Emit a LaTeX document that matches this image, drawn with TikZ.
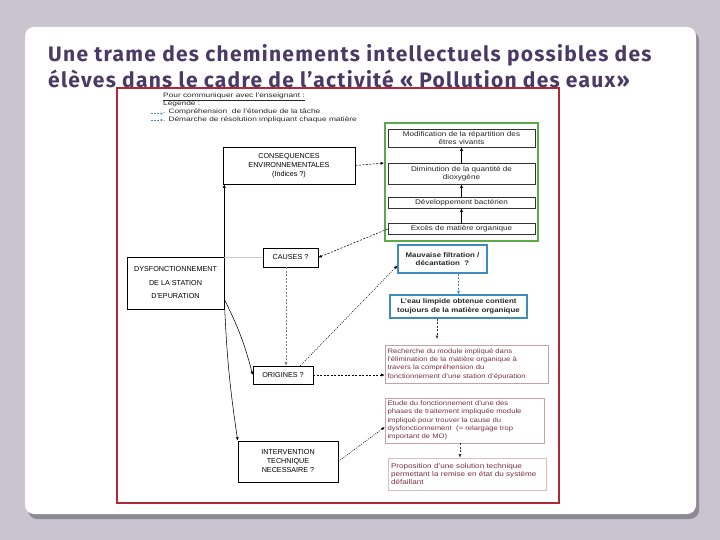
\documentclass[tikz,border=0pt]{standalone}
\usepackage{fontspec}
\setmainfont{Liberation Sans}
\newfontfamily\titlefont{Fira Sans}[LetterSpace=6]
\newfontfamily\wfa{Liberation Sans}[FakeStretch=1.3]
\newfontfamily\wfb{Liberation Sans}[FakeStretch=1.18]
\usetikzlibrary{arrows.meta}
\definecolor{bgc}{HTML}{C8C4D0}
\definecolor{titc}{HTML}{4A3A66}
\definecolor{redf}{HTML}{B02838}
\definecolor{grn}{HTML}{5AAA4A}
\definecolor{blu}{HTML}{3C8CC0}
\definecolor{redt}{HTML}{7A3040}
\definecolor{redb}{HTML}{C8A0A8}
\definecolor{shd}{HTML}{8C8A94}
\definecolor{legb}{HTML}{5A8AB8}
\begin{document}
\begin{tikzpicture}[x=1pt,y=-1pt,
  lbox/.style={draw=black, line width=0.6pt, fill=white, align=center, inner sep=1pt, font=\fontsize{7.2}{9}\selectfont},
  gbox/.style={draw=black!80, line width=0.6pt, fill=white, align=center, inner sep=1pt, text=black!85, font=\wfb\fontsize{6.9}{8.2}\selectfont, minimum width=147pt},
  bbox/.style={draw=blu, line width=1.1pt, fill=white, align=center, inner sep=1pt, text=black!85, font=\wfb\bfseries\fontsize{6.7}{8.5}\selectfont},
  rbox/.style={draw=redb, line width=0.6pt, fill=white, align=left, inner sep=1pt, text=redt, font=\wfb\fontsize{6.5}{8.3}\selectfont},
  arr/.style={-{Latex[length=3.5pt,width=3pt]}, line width=0.55pt},
  dsh/.style={arr, dash pattern=on 2pt off 1.5pt},
  dtt/.style={arr, dash pattern=on 1pt off 1.2pt},
  legt/.style={anchor=west, inner sep=0pt, font=\wfa\fontsize{6.4}{7}\selectfont, text=black!85}
]
\fill[bgc] (0,0) rectangle (720,540);
\useasboundingbox (0,0) rectangle (720,540);
\fill[shd, rounded corners=9pt] (28,31) rectangle (699,519);
\fill[white, rounded corners=9pt] (25,27) rectangle (696,514);
% title
\node[anchor=base west, inner sep=0pt, text=titc, font=\titlefont\bfseries\fontsize{21}{22}\selectfont] (t1) at (48,62) {Une trame des cheminements intellectuels possibles des};
\node[anchor=base west, inner sep=0pt, text=titc, font=\titlefont\bfseries\fontsize{21}{22}\selectfont] (t2) at (48,88) {élèves dans le cadre de l’activité « Pollution des eaux»};
% red frame
\draw[redf, line width=1.2pt] (117,88) rectangle (559,503);
% legend
\node[legt] (lg1) at (163,97) {\underline{Pour communiquer avec l’enseignant :}};
\node[legt] (lg2) at (163,104) {Légende :};
\node[legt] (lg3) at (163,112) {. Compréhension\ \ de l’étendue de la tâche};
\node[legt] (lg4) at (163,119.5) {. Démarche de résolution impliquant chaque matière};
\coordinate (la1) at (151,113.5);
\coordinate (lb1) at (163,113.5);
\coordinate (la2) at (151,120);
\coordinate (lb2) at (163,120);
\draw[-{Latex[length=2.5pt,width=2.5pt]}, legb, line width=0.6pt, dash pattern=on 2pt off 1.2pt] (la1) -- (lb1);
\draw[-{Latex[length=2.5pt,width=2.5pt]}, legb, line width=0.6pt, dash pattern=on 2pt off 1.2pt] (la2) -- (lb2);
% green group
\node[draw=grn, line width=1.8pt, minimum width=153pt, minimum height=118pt, inner sep=0pt] (green) at (461.5,182) {};
\node[gbox, minimum height=18pt] (mod) at (461.5,138) {Modification de la répartition des\\êtres vivants};
\node[gbox, minimum height=21pt] (dim) at (461.5,173.5) {Diminution de la quantité de\\dioxygène};
\node[gbox, minimum height=11pt] (dev) at (461.5,202.5) {Développement bactérien};
\node[gbox, minimum height=10.5pt] (exc) at (461.5,229) {Excès de matière organique};
\draw[arr] (exc.north) -- (dev.south);
\draw[arr] (dev.north) -- (dim.south);
\draw[arr] (dim.north) -- (mod.south);
% blue boxes
\node[bbox, minimum width=89pt, minimum height=28pt] (maus) at (442.5,259) {Mauvaise filtration /\\décantation\ \ ?};
\node[bbox, minimum width=137pt, minimum height=23pt] (eau) at (458.5,306.5) {L’eau limpide obtenue contient\\toujours de la matière organique};
\draw[dsh, blu] (eau.north |- maus.south) -- (eau.north);
\coordinate (eauend) at (437,339);
\draw[dsh, black!80] ([xshift=-21.5pt]eau.south) -- (eauend);
% red text boxes
\node[rbox, minimum width=163pt, minimum height=38pt, text width=158pt] (rech) at (466.5,364) {Recherche du module impliqué dans\\l’élimination de la matière organique à\\travers la compréhension du\\fonctionnement d’une station d’épuration};
\node[rbox, minimum width=159pt, minimum height=45pt, text width=154pt] (etude) at (464.5,420.5) {Etude du fonctionnement d’une des\\phases de traitement impliquée module\\impliqué pour trouver la cause du\\dysfonctionnement\ \ (= relargage trop\\important de MO)};
\node[rbox, minimum width=158pt, minimum height=32pt, text width=152pt, draw=redb!70, font=\wfb\fontsize{6.9}{8.3}\selectfont] (prop) at (467,474) {Proposition d’une solution technique\\permettant la remise en état du système\\défaillant};
\draw[dsh, black!80] ([xshift=-4.5pt]etude.south) -- ([xshift=-7pt]prop.north);
% left boxes
\node[lbox, minimum width=132pt, minimum height=37pt] (cons) at (289,165.5) {CONSEQUENCES\\ENVIRONNEMENTALES\\(Indices ?)};
\node[lbox, minimum width=55pt, minimum height=19pt] (causes) at (290.5,257.5) {CAUSES ?};
\node[lbox, minimum width=97pt, minimum height=52pt, font=\fontsize{7.2}{13.5}\selectfont] (dysf) at (175.5,283) {DYSFONCTIONNEMENT\\DE LA STATION\\D’EPURATION};
\node[lbox, minimum width=60pt, minimum height=18pt] (orig) at (283,375) {ORIGINES ?};
\node[lbox, minimum width=100pt, minimum height=41pt] (interv) at (288,461.5) {INTERVENTION\\TECHNIQUE\\NECESSAIRE ?};
% connectors
\draw[black!20, line width=0.5pt] (dysf.east |- causes.west) -- (causes.west);
\draw[arr] (dysf.north east) -- (dysf.north east |- cons.south);
\draw[arr] ([yshift=10pt]dysf.south east) to[bend left=6] (orig.west);
\draw[arr] ([yshift=10pt]dysf.south east) to[bend right=3] (interv.north west);
\draw[dsh, black!50] ([xshift=-4.5pt]causes.south) -- ([xshift=3pt]orig.north);
\draw[dsh] (cons.east) -- ([yshift=19pt]green.west);
\draw[dsh] (exc.west) -- (causes.east);
\draw[dtt] ([xshift=-13pt]orig.north east) -- ([yshift=8pt]maus.south west);
\draw[dsh] (orig.east) -- (orig.east -| rech.west);
\draw[dtt] (interv.east) -- ([yshift=-6.5pt]etude.west);
\end{tikzpicture}
\end{document}
